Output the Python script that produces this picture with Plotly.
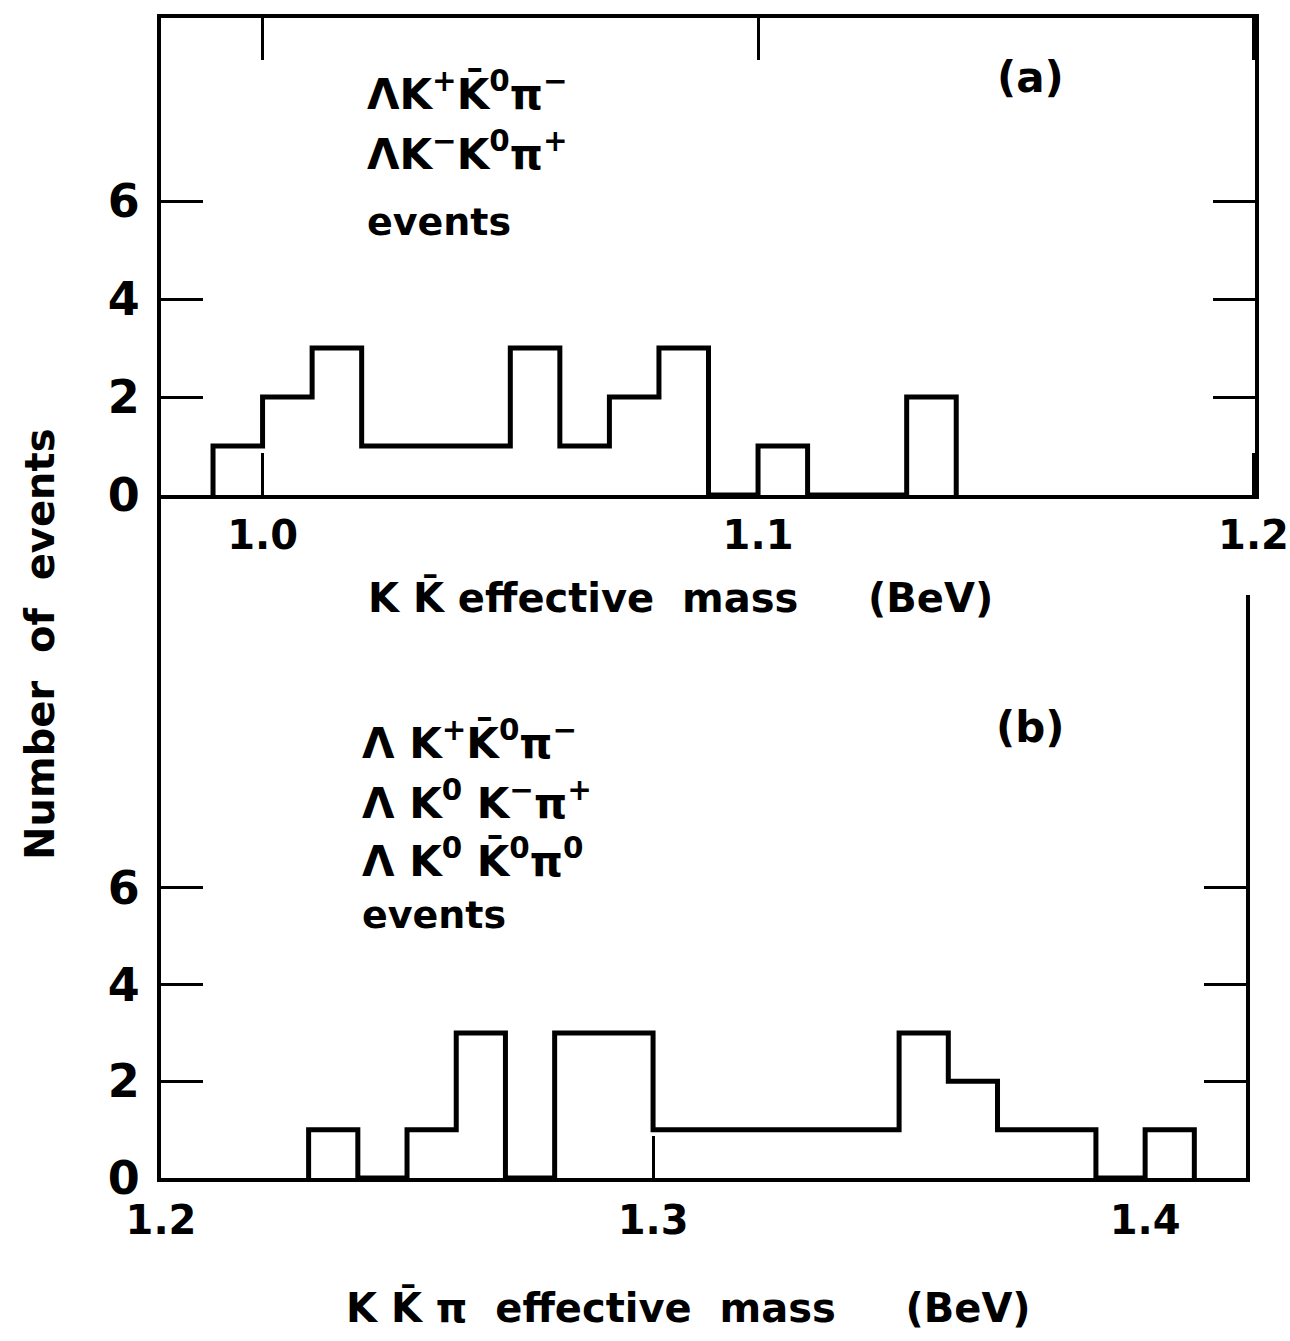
import plotly.graph_objects as go

# ---------------- data ----------------
bin_width = 0.01

# Panel (a): K Kbar effective mass (BeV)
a_bin_left = [0.99, 1.00, 1.01, 1.02, 1.03, 1.04, 1.05, 1.06, 1.07, 1.08,
              1.09, 1.10, 1.11, 1.12, 1.13]
a_counts = [1, 2, 3, 1, 1, 1, 3, 1, 2, 3, 0, 1, 0, 0, 2]
a_xticks = [1.0, 1.1, 1.2]
a_xticklabels = ["1.0", "1.1", "1.2"]

# Panel (b): K Kbar pi effective mass (BeV)
b_bin_left = [1.23, 1.24, 1.25, 1.26, 1.27, 1.28, 1.29, 1.30, 1.31, 1.32,
              1.33, 1.34, 1.35, 1.36, 1.37, 1.38, 1.39, 1.40]
b_counts = [1, 0, 1, 3, 0, 3, 3, 1, 1, 1, 1, 1, 3, 2, 1, 1, 0, 1]
b_xticks = [1.2, 1.3, 1.4]
b_xticklabels = ["1.2", "1.3", "1.4"]

y_ticks = [0, 2, 4, 6]
y_ticklabels = ["0", "2", "4", "6"]


def steps(lefts, counts, w):
    xs = [lefts[0]] + list(lefts) + [lefts[-1] + w]
    ys = [0] + list(counts) + [0]
    return xs, ys


W, H = 1290, 1341
FONT = "DejaVu Sans"


def px(x):
    return x / W


def py(y):
    return 1 - y / H


fig = go.Figure()
ax, ay = steps(a_bin_left, a_counts, bin_width)
bx, by = steps(b_bin_left, b_counts, bin_width)
fig.add_trace(go.Scatter(x=ax, y=ay, mode="lines", line=dict(color="black", width=5, shape="hv"),
                         xaxis="x", yaxis="y", hoverinfo="skip", showlegend=False, cliponaxis=False))
fig.add_trace(go.Scatter(x=bx, y=by, mode="lines", line=dict(color="black", width=5, shape="hv"),
                         xaxis="x2", yaxis="y2", hoverinfo="skip", showlegend=False, cliponaxis=False))

LEFT = 161
axis_common = dict(showgrid=False, zeroline=False, showline=True, linecolor="black", linewidth=4,
                   ticks="inside", ticklen=42, tickwidth=3, tickcolor="black", automargin=False,
                   ticklabeloverflow="allow")
xfont = dict(family=FONT, size=40, color="black", weight="bold")
yfont = dict(family=FONT, size=46, color="black", weight="bold")

fig.update_layout(
    template="none",
    width=W, height=H, margin=dict(l=0, r=0, t=0, b=0, autoexpand=False),
    paper_bgcolor="white", plot_bgcolor="white",
    xaxis=dict(domain=[px(LEFT), px(1255)], range=[0.9795, 1.2003], anchor="y",
               tickvals=a_xticks, ticktext=a_xticklabels, mirror="ticks",
               ticklabelstandoff=2, tickfont=xfont, **axis_common),
    yaxis=dict(domain=[py(495), py(18)], range=[0, 9.74], anchor="x",
               tickvals=y_ticks, ticktext=y_ticklabels, mirror="ticks",
               ticklabelstandoff=8, tickfont=yfont, **axis_common),
    xaxis2=dict(domain=[px(LEFT), px(1246)], range=[1.2, 1.4205], anchor="y2",
                tickvals=b_xticks, ticktext=b_xticklabels, mirror=False,
                ticklabelstandoff=4, tickfont=xfont, **axis_common),
    yaxis2=dict(domain=[py(1178), py(595)], range=[0, 12.06], anchor="x2",
                tickvals=y_ticks, ticktext=y_ticklabels, mirror="ticks",
                ticklabelstandoff=8, tickfont=yfont, **axis_common),
)

# continuous left frame line between the panels
fig.add_shape(type="line", xref="paper", yref="paper", x0=px(LEFT - 2), x1=px(LEFT - 2),
              y0=py(493), y1=py(597), line=dict(color="black", width=4))

KB = "K\u0304"
texts = [
    ("\u039bK<sup>+</sup>" + KB + "<sup>0</sup>\u03c0<sup>\u2212</sup>", 365, 92, "left", 42),
    ("\u039bK<sup>\u2212</sup>K<sup>0</sup>\u03c0<sup>+</sup>", 365, 152, "left", 42),
    ("events", 365, 222, "left", 38),
    ("(a)", 1030, 77, "center", 42),
    ("\u039b K<sup>+</sup>" + KB + "<sup>0</sup>\u03c0<sup>\u2212</sup>", 360, 740, "left", 42),
    ("\u039b K<sup>0</sup> K<sup>\u2212</sup>\u03c0<sup>+</sup>", 360, 800, "left", 42),
    ("\u039b K<sup>0</sup> " + KB + "<sup>0</sup>\u03c0<sup>0</sup>", 360, 858, "left", 42),
    ("events", 360, 915, "left", 38),
    ("(b)", 1030, 727, "center", 42),
    ("K " + KB + " effective\u00a0\u00a0mass\u00a0\u00a0\u00a0\u00a0\u00a0(BeV)", 680, 597, "center", 40),
    ("K " + KB + " \u03c0\u00a0\u00a0effective\u00a0\u00a0mass\u00a0\u00a0\u00a0\u00a0\u00a0(BeV)", 688, 1307, "center", 40),
]
for t, x, y, anc, size in texts:
    fig.add_annotation(text=t, x=px(x), y=py(y), xref="paper", yref="paper",
                       xanchor=anc, yanchor="middle", showarrow=False,
                       font=dict(family=FONT, size=size, color="black", weight="bold"))

fig.add_annotation(text="Number\u00a0\u00a0of\u00a0\u00a0events", x=px(40), y=py(645), xref="paper", yref="paper",
                   xanchor="center", yanchor="middle", showarrow=False, textangle=-90,
                   font=dict(family=FONT, size=40, color="black", weight="bold"))

fig.write_html("out.html")
